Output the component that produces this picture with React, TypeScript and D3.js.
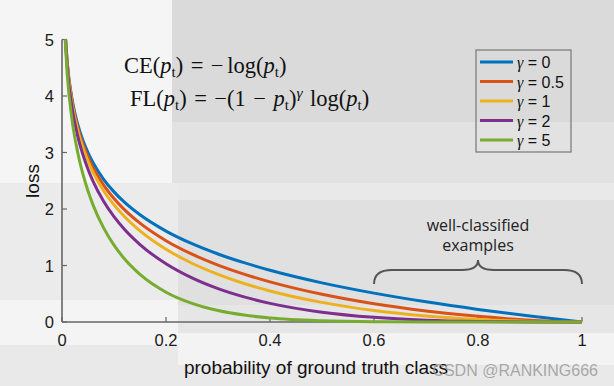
import React from "react";
import * as d3 from "d3";

// probability of ground truth class (sample points)
const probs = [0.005, 0.01, 0.02, 0.03, 0.04, 0.05, 0.06, 0.08, 0.1, 0.12, 0.15, 0.2, 0.25, 0.3, 0.35, 0.4, 0.5, 0.6, 0.7, 0.8, 0.9, 1.0];

// loss values
const lossG0 = [5.3, 4.605, 3.912, 3.507, 3.219, 2.996, 2.813, 2.526, 2.303, 2.12, 1.897, 1.609, 1.386, 1.204, 1.05, 0.916, 0.693, 0.511, 0.357, 0.223, 0.105, 0];
const lossG05 = [5.285, 4.582, 3.873, 3.454, 3.154, 2.92, 2.727, 2.423, 2.185, 1.989, 1.749, 1.439, 1.2, 1.007, 0.847, 0.71, 0.49, 0.323, 0.196, 0.1, 0.033, 0];
const lossG1 = [5.272, 4.559, 3.834, 3.402, 3.09, 2.846, 2.644, 2.324, 2.072, 1.866, 1.612, 1.287, 1.04, 0.843, 0.682, 0.55, 0.347, 0.204, 0.107, 0.045, 0.011, 0];
const lossG2 = [5.245, 4.513, 3.757, 3.3, 2.967, 2.704, 2.486, 2.138, 1.865, 1.642, 1.371, 1.03, 0.78, 0.59, 0.444, 0.33, 0.173, 0.082, 0.032, 0.009, 0.001, 0];
const lossG5 = [5.167, 4.38, 3.536, 3.011, 2.625, 2.318, 2.064, 1.665, 1.36, 1.119, 0.842, 0.527, 0.329, 0.202, 0.122, 0.071, 0.022, 0.005, 0.001, 0, 0, 0];

const gammaLabels = ["0", "0.5", "1", "2", "5"];
const seriesColors = ["#0072BD", "#D95319", "#EDB120", "#7E2F8E", "#77AC30"];
const seriesValues = [lossG0, lossG05, lossG1, lossG2, lossG5];

const xTicks = [0, 0.2, 0.4, 0.6, 0.8, 1];
const yTicks = [0, 1, 2, 3, 4, 5];

export default function App() {
  const width = 614;
  const height = 386;
  const left = 62, right = 582, top = 39.5, bottom = 322;

  const x = d3.scaleLinear().domain([0, 1]).range([left, right]);
  const y = d3.scaleLinear().domain([0, 5]).range([bottom, top]);

  const line = d3
    .line<number>()
    .x((_, i) => x(probs[i]))
    .y((d) => y(d))
    .curve(d3.curveMonotoneX);

  const sans = "'Liberation Sans', Arial, sans-serif";
  const serif = "'Liberation Serif', 'Times New Roman', serif";
  const sp = "\u2004"; // medium gap around operators
  const th = "\u2006"; // thin gap after unary minus

  // curly brace over the well-classified region
  const bx0 = x(0.6), bx1 = x(1), bm = (bx0 + bx1) / 2;
  const brace = `M${bx0},284 Q${bx0},270 ${bx0 + 18},270 L${bm - 16},270 Q${bm},270 ${bm},260 Q${bm},270 ${bm + 16},270 L${bx1 - 18},270 Q${bx1},270 ${bx1},284`;

  return (
    <svg width={width} height={height} style={{ position: "absolute", left: 0, top: 0 }}>
      {/* patchy screenshot background */}
      <rect x={0} y={0} width={614} height={386} fill="#e9e9e9" />
      <rect x={0} y={0} width={172} height={183} fill="#f5f5f5" />
      <rect x={172} y={0} width={442} height={122} fill="#dadada" />
      <rect x={172} y={122} width={442} height={61} fill="#e2e2e2" />
      <rect x={0} y={183} width={178} height={117} fill="#ebebeb" />
      <rect x={178} y={200} width={436} height={105} fill="#e0e0e0" />
      <rect x={178} y={305} width={436} height={28} fill="#e6e6e6" />
      <rect x={0} y={300} width={178} height={45} fill="#f4f4f4" />
      <rect x={178} y={333} width={436} height={32} fill="#f3f3f3" />

      <defs>
        <clipPath id="plot">
          <rect x={left} y={top} width={right - left} height={bottom - top + 2} />
        </clipPath>
      </defs>

      {/* axes */}
      <g stroke="#666" strokeWidth={1.6} fill="none">
        <line x1={left} y1={top} x2={left} y2={bottom} />
        <line x1={left} y1={bottom} x2={right} y2={bottom} />
        {xTicks.map((t) => (
          <line key={"xt" + t} x1={x(t)} x2={x(t)} y1={bottom} y2={bottom - 5} strokeWidth={1.2} />
        ))}
        {yTicks.map((t) => (
          <line key={"yt" + t} x1={left} x2={left + 5} y1={y(t)} y2={y(t)} strokeWidth={1.2} />
        ))}
      </g>

      {/* curves */}
      <g clipPath="url(#plot)">
        {seriesValues.map((vals, i) => (
          <path key={i} d={line(vals) || ""} fill="none" stroke={seriesColors[i]} strokeWidth={3} />
        ))}
      </g>

      {/* tick labels */}
      <g fontFamily={sans} fontSize={16.5} fill="#1a1a1a">
        {xTicks.map((t) => (
          <text key={"xl" + t} x={x(t)} y={346} textAnchor="middle">{String(t)}</text>
        ))}
        {yTicks.map((t) => (
          <text key={"yl" + t} x={54} y={y(t) + 6} textAnchor="end">{String(t)}</text>
        ))}
      </g>

      {/* axis titles */}
      <text x={316} y={374} textAnchor="middle" fontFamily={sans} fontSize={19} fill="#111">
        probability of ground truth class
      </text>
      <text transform="translate(39,181) rotate(-90)" textAnchor="middle" fontFamily={sans} fontSize={19} fill="#111">
        loss
      </text>

      {/* formulas */}
      <g fontFamily={serif} fontSize={22.5} fill="#111">
        <text x={124} y={73}>
          CE(<tspan fontStyle="italic">p</tspan><tspan fontSize={15} dy={4}>t</tspan>
          <tspan dy={-4}>{`)${sp}=${sp}−${th}log(`}</tspan>
          <tspan fontStyle="italic">p</tspan><tspan fontSize={15} dy={4}>t</tspan><tspan dy={-4}>)</tspan>
        </text>
        <text x={130} y={106}>
          FL(<tspan fontStyle="italic">p</tspan><tspan fontSize={15} dy={4}>t</tspan>
          <tspan dy={-4}>{`)${sp}=${sp}−(1${sp}−${sp}`}</tspan>
          <tspan fontStyle="italic">p</tspan><tspan fontSize={15} dy={4}>t</tspan><tspan dy={-4}>)</tspan>
          <tspan fontStyle="italic" fontSize={15.5} dy={-8}>γ</tspan>
          <tspan dy={8}>{`${sp}log(`}</tspan>
          <tspan fontStyle="italic">p</tspan><tspan fontSize={15} dy={4}>t</tspan><tspan dy={-4}>)</tspan>
        </text>
      </g>

      {/* legend */}
      <rect x={476} y={50} width={95} height={102} fill="none" stroke="#777" strokeWidth={1.2} />
      {gammaLabels.map((g, i) => {
        const ly = 62 + i * 19.5;
        return (
          <g key={"lg" + g}>
            <line x1={480} x2={513} y1={ly} y2={ly} stroke={seriesColors[i]} strokeWidth={3} />
            <text x={517} y={ly + 6} fontFamily={sans} fontSize={16} fill="#111">
              <tspan fontFamily={serif} fontStyle="italic">γ</tspan> = {g}
            </text>
          </g>
        );
      })}

      {/* annotation */}
      <path d={brace} fill="none" stroke="#555" strokeWidth={2} />
      <g fontFamily="'Open Sans', sans-serif" fontSize={16} fill="#222" textAnchor="middle">
        <text x={bm} y={231}>well-classified</text>
        <text x={bm} y={251}>examples</text>
      </g>

      {/* watermark */}
      <text x={598} y={376} textAnchor="end" fontFamily={sans} fontSize={16} fill="#9a9a9a" fillOpacity={0.85}>
        CSDN @RANKING666
      </text>
    </svg>
  );
}
